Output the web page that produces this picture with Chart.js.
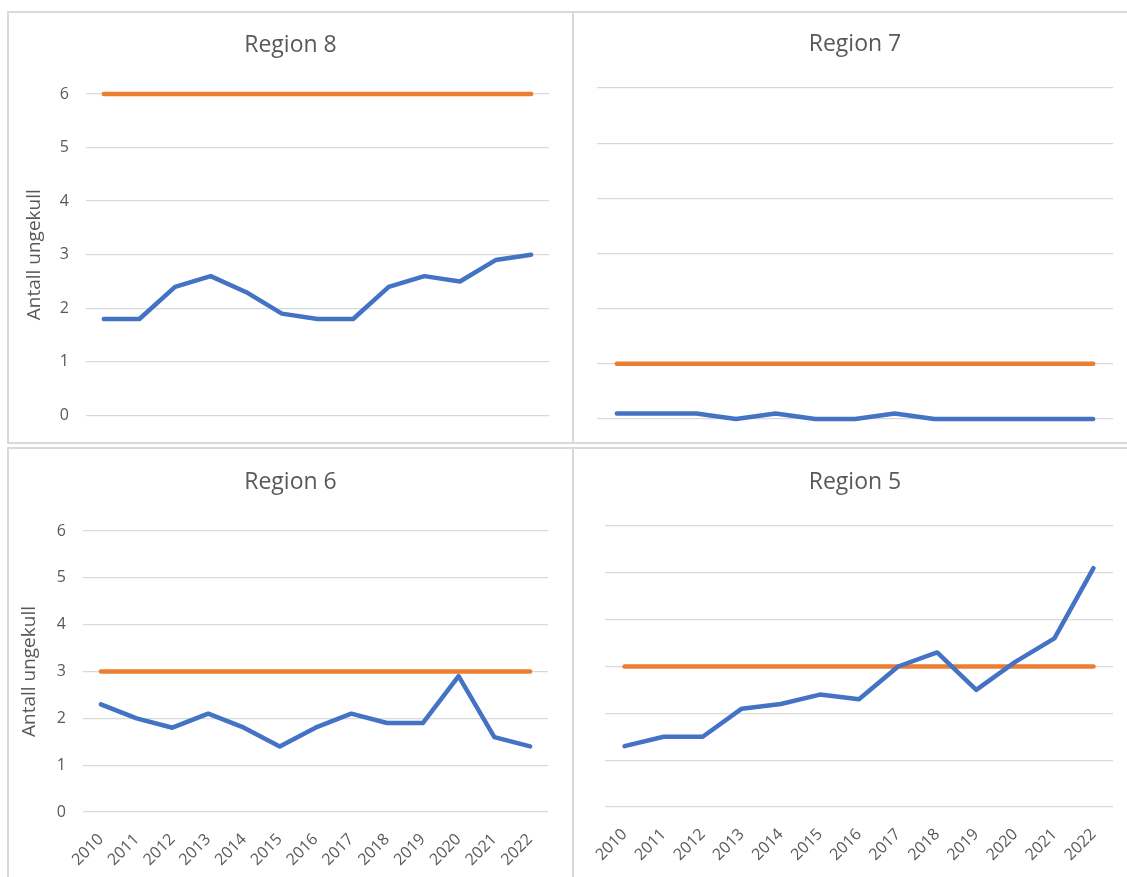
<!DOCTYPE html>
<html>
<head>
<meta charset="utf-8">
<script src="https://cdn.jsdelivr.net/npm/chart.js@4.4.0/dist/chart.umd.min.js"></script>
<style>
  body { margin: 0; background: #fff; width: 1127px; height: 877px; overflow: hidden; position: relative; }
  .panel { position: absolute; border: 2px solid #d9d9d9; box-sizing: border-box; background: #fff; overflow: hidden; }
  .panel canvas { display: block; }
</style>
</head>
<body>
<div class="panel" style="left:7px;top:11px;width:567px;height:433px"><canvas id="chart8" width="563" height="429"></canvas></div>
<div class="panel" style="left:572px;top:11px;width:600px;height:433px"><canvas id="chart7" width="553" height="429"></canvas></div>
<div class="panel" style="left:7px;top:447px;width:567px;height:440px"><canvas id="chart6" width="563" height="428"></canvas></div>
<div class="panel" style="left:572px;top:447px;width:600px;height:440px"><canvas id="chart5" width="553" height="428"></canvas></div>

<script>
// Years on the x axis
const years = ['2010', '2011', '2012', '2013', '2014', '2015', '2016', '2017', '2018', '2019', '2020', '2021', '2022'];
const yTicks = [0, 1, 2, 3, 4, 5, 6];

// Antall ungekull per region
const region8 = [1.8, 1.8, 2.4, 2.6, 2.3, 1.9, 1.8, 1.8, 2.4, 2.6, 2.5, 2.9, 3.0];
const region7 = [0.1, 0.1, 0.1, 0, 0.1, 0, 0, 0.1, 0, 0, 0, 0, 0];
const region6 = [2.3, 2.0, 1.8, 2.1, 1.8, 1.4, 1.8, 2.1, 1.9, 1.9, 2.9, 1.6, 1.4];
const region5 = [1.3, 1.5, 1.5, 2.1, 2.2, 2.4, 2.3, 3.0, 3.3, 2.5, 3.1, 3.6, 5.1];

// Bestandsmål (orange line)
const target8 = [6, 6, 6, 6, 6, 6, 6, 6, 6, 6, 6, 6, 6];
const target7 = [1, 1, 1, 1, 1, 1, 1, 1, 1, 1, 1, 1, 1];
const target6 = [3, 3, 3, 3, 3, 3, 3, 3, 3, 3, 3, 3, 3];
const target5 = [3, 3, 3, 3, 3, 3, 3, 3, 3, 3, 3, 3, 3];

const textColor = '#595959';
const gridColor = '#d9d9d9';
const fontFamily = "'Open Sans', sans-serif";

function makeChart(id, title, values, target, box) {
  const titleSize = 23;
  const titleLine = titleSize * 1.2;
  const titleTop = box.titleY - titleLine / 2;
  const axisTitleSize = 19;

  return new Chart(document.getElementById(id), {
    type: 'line',
    data: {
      labels: years,
      datasets: [
        {
          data: values,
          borderColor: '#4472c4',
          borderWidth: 4.5,
          pointRadius: 0,
          borderCapStyle: 'round',
          borderJoinStyle: 'round',
          tension: 0,
          clip: false
        },
        {
          data: target,
          borderColor: '#ed7d31',
          borderWidth: 4.5,
          pointRadius: 0,
          borderCapStyle: 'round',
          tension: 0,
          clip: false
        }
      ]
    },
    options: {
      responsive: false,
      animation: false,
      events: [],
      layout: { padding: { left: box.padLeft, right: 0, top: 0, bottom: 0 } },
      plugins: {
        legend: { display: false },
        tooltip: { enabled: false },
        title: {
          display: true,
          text: title,
          color: textColor,
          font: { family: fontFamily, size: titleSize, weight: 'normal' },
          padding: { top: titleTop, bottom: box.top - titleTop - titleLine }
        }
      },
      scales: {
        x: {
          offset: true,
          grid: { display: false },
          border: { display: false },
          ticks: {
            display: box.showX,
            color: textColor,
            font: { family: fontFamily, size: 16 },
            minRotation: 45,
            maxRotation: 45,
            autoSkip: false,
            padding: 10
          },
          afterFit: s => { s.height = box.xHeight; }
        },
        y: {
          min: 0,
          max: 6,
          afterBuildTicks: s => { s.ticks = yTicks.map(v => ({ value: v })); },
          grid: { color: gridColor, lineWidth: 1.3, drawTicks: false },
          border: { display: false },
          ticks: {
            display: box.showY,
            color: textColor,
            font: { family: fontFamily, size: 16 },
            padding: 17
          },
          title: {
            display: box.showY,
            text: 'Antall ungekull',
            color: textColor,
            font: { family: fontFamily, size: axisTitleSize },
            padding: { top: box.yTitleX - axisTitleSize * 0.6, bottom: 0 }
          },
          afterFit: s => { s.width = box.left; }
        },
        // empty right-hand space so the title stays centred on the whole panel
        yRight: {
          position: 'right',
          grid: { display: false },
          border: { display: false },
          ticks: { display: false },
          afterFit: s => { s.width = box.padRight; }
        }
      }
    }
  });
}

makeChart('chart8', 'Region 8', region8, target8,
  { padLeft: 0, left: 77, padRight: 23, top: 81, xHeight: 25, titleY: 32, yTitleX: 26, showX: false, showY: true });
makeChart('chart7', 'Region 7', region7, target7,
  { padLeft: 9, left: 14, padRight: 14, top: 75, xHeight: 23, titleY: 31, yTitleX: 0, showX: false, showY: false });
makeChart('chart6', 'Region 6', region6, target6,
  { padLeft: 0, left: 74, padRight: 24, top: 82, xHeight: 65, titleY: 33, yTitleX: 21, showX: true, showY: true });
makeChart('chart5', 'Region 5', region5, target5,
  { padLeft: 9, left: 22, padRight: 14, top: 77, xHeight: 70, titleY: 33, yTitleX: 0, showX: true, showY: false });
</script>
</body>
</html>
